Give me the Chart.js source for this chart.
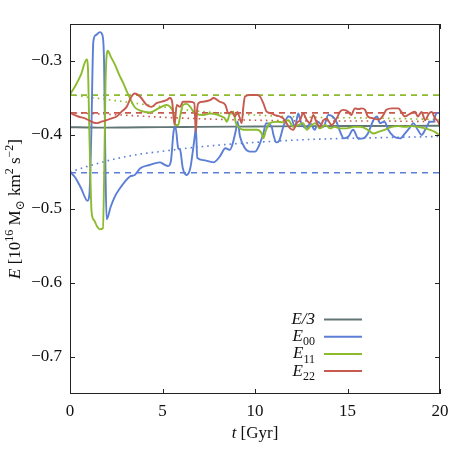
<!DOCTYPE html>
<html><head><meta charset="utf-8">
<script src="https://cdn.jsdelivr.net/npm/chart.js@4/dist/chart.umd.min.js"></script>
<style>html,body{margin:0;padding:0;background:#fff}canvas{display:block}</style>
</head><body>
<canvas id="c" width="463" height="463"></canvas>
<script>
// ---- data ----
const xTicks = [0, 5, 10, 15, 20];
const yTicks = [-0.7, -0.6, -0.5, -0.4, -0.3];

const tE3 = [0, 1, 1.5, 2, 3, 5, 7, 10, 13, 16, 20];
const vE3 = [-0.3895, -0.3898, -0.390, -0.390, -0.3898, -0.3893, -0.389, -0.3885, -0.388, -0.3878, -0.3875];

const tE00 = [0,0.3,0.6,0.95,1.05,1.15,1.26,1.4,1.62,1.75,1.84,1.92,1.98,2.2,2.43,2.7,2.97,3.24,3.5,3.8,4.3,4.86,5.1,5.3,5.45,5.6,5.7,5.85,5.95,6.1,6.3,6.5,6.67,6.76,6.8,6.88,7.2,7.57,7.75,8.1,8.4,8.65,8.8,8.97,9.06,9.19,9.46,9.73,10.0,10.23,10.45,10.6,10.9,11.0,11.15,11.3,11.53,11.8,11.98,12.16,12.34,12.5,12.8,12.97,13.24,13.4,13.7,13.96,14.2,14.4,14.6,14.8,15.05,15.3,15.6,15.85,16.1,16.4,16.6,16.75,17.0,17.2,17.5,17.85,18.1,18.4,18.55,18.8,19.0,19.2,19.46,19.64,19.8,20.0];
const vE00 = [-0.450,-0.458,-0.472,-0.489,-0.480,-0.400,-0.274,-0.265,-0.261,-0.265,-0.300,-0.450,-0.514,-0.497,-0.483,-0.472,-0.463,-0.456,-0.454,-0.445,-0.4405,-0.437,-0.440,-0.442,-0.436,-0.395,-0.389,-0.418,-0.420,-0.445,-0.454,-0.445,-0.416,-0.398,-0.389,-0.431,-0.434,-0.436,-0.437,-0.429,-0.418,-0.420,-0.411,-0.393,-0.382,-0.402,-0.418,-0.4225,-0.4225,-0.4135,-0.398,-0.384,-0.389,-0.400,-0.410,-0.408,-0.389,-0.375,-0.3775,-0.389,-0.371,-0.384,-0.391,-0.384,-0.393,-0.382,-0.389,-0.373,-0.375,-0.382,-0.3955,-0.4045,-0.402,-0.393,-0.405,-0.4045,-0.398,-0.380,-0.375,-0.384,-0.382,-0.393,-0.402,-0.4045,-0.398,-0.389,-0.384,-0.393,-0.400,-0.393,-0.382,-0.382,-0.371,-0.370];

const tE11 = [0,0.3,0.6,0.9,0.97,1.05,1.17,1.3,1.45,1.6,1.78,1.85,1.92,2.04,2.2,2.43,2.65,2.88,3.05,3.24,3.5,3.8,4.3,4.86,5.2,5.4,5.6,5.7,5.85,5.95,6.1,6.3,6.5,6.67,6.8,7.2,7.57,7.9,8.2,8.35,8.47,8.65,8.83,8.97,9.1,9.37,9.73,10.1,10.36,10.45,10.6,10.8,11.17,11.5,11.8,12.07,12.34,12.6,12.8,12.97,13.24,13.5,13.8,14.05,14.3,14.6,14.95,15.3,15.7,16.1,16.4,16.7,17.0,17.4,17.75,18.1,18.47,18.8,19.2,19.46,19.7,20.0];
const vE11 = [-0.345,-0.333,-0.318,-0.298,-0.310,-0.400,-0.505,-0.515,-0.523,-0.5275,-0.526,-0.450,-0.330,-0.286,-0.294,-0.305,-0.318,-0.330,-0.340,-0.350,-0.3625,-0.367,-0.3695,-0.363,-0.3595,-0.3615,-0.371,-0.3865,-0.3865,-0.375,-0.3595,-0.358,-0.362,-0.3685,-0.371,-0.373,-0.371,-0.372,-0.375,-0.377,-0.382,-0.371,-0.3685,-0.384,-0.389,-0.393,-0.393,-0.393,-0.398,-0.4045,-0.393,-0.384,-0.382,-0.383,-0.380,-0.389,-0.3865,-0.384,-0.393,-0.389,-0.384,-0.391,-0.3865,-0.391,-0.389,-0.391,-0.391,-0.389,-0.389,-0.393,-0.398,-0.3955,-0.393,-0.389,-0.388,-0.389,-0.388,-0.389,-0.391,-0.393,-0.3955,-0.401];

const tE22 = [0,0.45,0.81,1.17,1.44,1.7,1.98,2.25,2.52,2.79,3.06,3.3,3.5,3.78,4.15,4.4,4.68,4.95,5.22,5.4,5.52,5.65,5.77,5.95,6.1,6.5,6.72,6.8,6.87,6.94,7.2,7.57,7.75,8.1,8.4,8.56,8.74,8.92,9.05,9.15,9.28,9.37,9.46,9.73,10.1,10.27,10.45,10.63,10.8,11.08,11.35,11.53,11.7,11.9,12.07,12.25,12.43,12.6,12.8,12.97,13.15,13.3,13.5,13.7,13.87,14.14,14.4,14.6,14.77,15.05,15.2,15.4,15.6,15.77,15.95,16.1,16.4,16.7,16.94,17.1,17.4,17.75,17.9,18.1,18.4,18.65,18.8,19.0,19.2,19.4,19.55,19.73,19.9,20.0];
const vE22 = [-0.370,-0.375,-0.3775,-0.382,-0.384,-0.382,-0.380,-0.3775,-0.375,-0.3685,-0.362,-0.349,-0.344,-0.348,-0.3595,-0.362,-0.357,-0.355,-0.353,-0.350,-0.355,-0.3865,-0.3595,-0.362,-0.355,-0.355,-0.357,-0.3955,-0.366,-0.357,-0.355,-0.353,-0.350,-0.355,-0.3595,-0.371,-0.3685,-0.375,-0.369,-0.375,-0.384,-0.362,-0.348,-0.346,-0.346,-0.348,-0.357,-0.3685,-0.370,-0.373,-0.375,-0.3775,-0.384,-0.391,-0.393,-0.384,-0.380,-0.371,-0.380,-0.384,-0.373,-0.381,-0.389,-0.380,-0.378,-0.3865,-0.378,-0.3685,-0.366,-0.3685,-0.373,-0.364,-0.365,-0.364,-0.366,-0.375,-0.3775,-0.379,-0.373,-0.366,-0.364,-0.364,-0.3685,-0.375,-0.371,-0.3685,-0.375,-0.369,-0.380,-0.371,-0.369,-0.3775,-0.382,-0.388];

// dashed reference levels
const tLevel = [0, 20];
const vLevel00 = [-0.451, -0.451];
const vLevel11 = [-0.346, -0.346];
const vLevel22 = [-0.370, -0.370];

// dotted trend curves
const tTrend = [0, 1, 2, 3.5, 5, 7, 10, 13, 16, 20];
const vTrend00 = [-0.450, -0.442, -0.435, -0.427, -0.422, -0.416, -0.410, -0.406, -0.404, -0.402];
const vTrend11 = [-0.345, -0.349, -0.352, -0.357, -0.362, -0.368, -0.373, -0.376, -0.377, -0.379];
const vTrend22 = [-0.370, -0.371, -0.372, -0.374, -0.376, -0.378, -0.380, -0.381, -0.381, -0.382];

// ---- styling ----
const C3 = '#627676', C00 = '#5b7ed6', C11 = '#8cbb2e', C22 = '#c75a4e';
const FONT = "'Liberation Serif', 'DejaVu Serif', serif";

const pts = (t, v) => t.map((x, i) => ({x, y: v[i]}));
const solid = (label, t, v, c, order) => ({label, data: pts(t, v), borderColor: c, borderWidth: 1.9, pointRadius: 0, fill: false, order, cubicInterpolationMode: 'monotone'});
const dashed = (t, v, c) => ({label: '', data: pts(t, v), borderColor: c, borderWidth: 1.7, borderDash: [6, 5], pointRadius: 0, fill: false, order: 10});
const dotted = (t, v, c) => ({label: '', data: pts(t, v), borderColor: c, borderWidth: 1.6, borderDash: [1.6, 4], pointRadius: 0, fill: false, order: 11, cubicInterpolationMode: 'monotone'});

function drawRich(ctx, segs, x, y, align, size) {
  const sm = Math.round(size * 0.7);
  const fontOf = s => (s.i ? 'italic ' : '') + (s.p ? sm : size) + 'px ' + FONT;
  let w = 0;
  segs.forEach(s => { ctx.font = fontOf(s); w += ctx.measureText(s.t).width; });
  let cx = align === 'center' ? x - w / 2 : align === 'right' ? x - w : x;
  ctx.textAlign = 'left';
  ctx.textBaseline = 'alphabetic';
  segs.forEach(s => {
    ctx.font = fontOf(s);
    const dy = s.p === 'sup' ? -size * 0.4 : s.p === 'sub' ? size * 0.25 : 0;
    ctx.fillText(s.t, cx, y + dy);
    cx += ctx.measureText(s.t).width;
  });
}

const decor = {
  id: 'decor',
  afterDraw(chart) {
    const ctx = chart.ctx, a = chart.chartArea;
    const xs = chart.scales.x, ys = chart.scales.y;
    ctx.save();
    ctx.strokeStyle = '#222'; ctx.lineWidth = 1;
    ctx.strokeRect(a.left + 0.5, a.top + 0.5, a.right - a.left - 1, a.bottom - a.top - 1);
    ctx.beginPath();
    const L = 5;
    xTicks.forEach(v => {
      const px = Math.round(xs.getPixelForValue(v)) + 0.5;
      ctx.moveTo(px, a.bottom); ctx.lineTo(px, a.bottom - L);
      ctx.moveTo(px, a.top); ctx.lineTo(px, a.top + L);
    });
    yTicks.forEach(v => {
      const py = Math.round(ys.getPixelForValue(v)) + 0.5;
      ctx.moveTo(a.left, py); ctx.lineTo(a.left + L, py);
      ctx.moveTo(a.right, py); ctx.lineTo(a.right - L, py);
    });
    ctx.stroke();
    ctx.fillStyle = '#111';
    // x title
    drawRich(ctx, [{t: 't', i: 1}, {t: ' [Gyr]'}], (a.left + a.right) / 2, 438, 'center', 17);
    // y title
    ctx.save();
    ctx.translate(20, (a.top + a.bottom) / 2);
    ctx.rotate(-Math.PI / 2);
    drawRich(ctx, [{t: 'E', i: 1}, {t: ' [10'}, {t: '16', p: 'sup'}, {t: ' M'}, {t: '⊙', p: 'sub'}, {t: ' km'}, {t: '2', p: 'sup'}, {t: ' s'}, {t: '−2', p: 'sup'}, {t: ']'}], 0, 0, 'center', 17);
    ctx.restore();
    // legend
    const rows = [
      {segs: [{t: 'E', i: 1}, {t: '/3', i: 1}], c: C3},
      {segs: [{t: 'E', i: 1}, {t: '00', p: 'sub'}], c: C00},
      {segs: [{t: 'E', i: 1}, {t: '11', p: 'sub'}], c: C11},
      {segs: [{t: 'E', i: 1}, {t: '22', p: 'sub'}], c: C22}
    ];
    rows.forEach((r, i) => {
      const y = 319 + i * 17.2;
      ctx.fillStyle = '#111';
      drawRich(ctx, r.segs, 315, y + 5, 'right', 17);
      ctx.strokeStyle = r.c; ctx.lineWidth = 2;
      ctx.beginPath(); ctx.moveTo(324, y + 0.5); ctx.lineTo(362, y + 0.5); ctx.stroke();
    });
    ctx.restore();
  }
};

new Chart(document.getElementById('c'), {
  type: 'scatter',
  data: {
    datasets: [
      solid('E22', tE22, vE22, C22, 1),
      solid('E11', tE11, vE11, C11, 2),
      solid('E00', tE00, vE00, C00, 3),
      solid('E/3', tE3, vE3, C3, 4),
      dashed(tLevel, vLevel00, C00),
      dashed(tLevel, vLevel11, C11),
      dashed(tLevel, vLevel22, C22),
      dotted(tTrend, vTrend00, C00),
      dotted(tTrend, vTrend11, C11),
      dotted(tTrend, vTrend22, C22)
    ].map(d => Object.assign(d, {showLine: true}))
  },
  options: {
    responsive: false, animation: false, devicePixelRatio: 1,
    layout: {padding: {left: 0, right: 23, top: 24, bottom: 0}},
    plugins: {legend: {display: false}, tooltip: {enabled: false}},
    scales: {
      x: {
        type: 'linear', min: 0, max: 20,
        grid: {display: false, drawTicks: false}, border: {display: false},
        afterBuildTicks: s => { s.ticks = xTicks.map(v => ({value: v})); },
        afterFit: s => { s.height = 69; },
        ticks: {font: {family: FONT, size: 17}, color: '#111', padding: 7, maxRotation: 0, callback: v => String(v)}
      },
      y: {
        type: 'linear', min: -0.75, max: -0.25,
        grid: {display: false, drawTicks: false}, border: {display: false},
        afterBuildTicks: s => { s.ticks = yTicks.map(v => ({value: v})); },
        afterFit: s => { s.width = 70; },
        ticks: {font: {family: FONT, size: 17}, color: '#111', padding: 8, callback: v => (v < 0 ? '−' : '') + Math.abs(v).toFixed(1)}
      }
    }
  },
  plugins: [decor]
});
</script>
</body></html>
